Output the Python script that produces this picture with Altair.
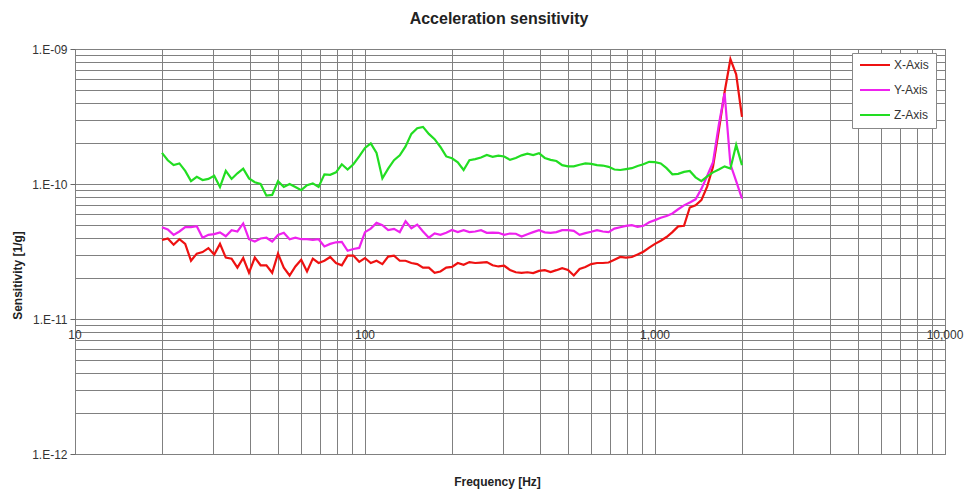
import altair as alt
import pandas as pd

# Frequency grid [Hz] (log-spaced, 50 points per decade, 20 Hz .. 2 kHz)
freqs = [
    19.95, 20.89, 21.88, 22.91, 23.99, 25.12, 26.30, 27.54, 28.84, 30.20,
    31.62, 33.11, 34.67, 36.31, 38.02, 39.81, 41.69, 43.65, 45.71, 47.86,
    50.12, 52.48, 54.95, 57.54, 60.26, 63.10, 66.07, 69.18, 72.44, 75.86,
    79.43, 83.18, 87.10, 91.20, 95.50,
    100.0, 104.7, 109.6, 114.8, 120.2, 125.9, 131.8, 138.0, 144.5, 151.4,
    158.5, 166.0, 173.8, 182.0, 190.6, 199.5, 208.9, 218.8, 229.1, 239.9,
    251.2, 263.0, 275.4, 288.4, 302.0, 316.2, 331.1, 346.7, 363.1, 380.2,
    398.1, 416.9, 436.5, 457.1, 478.6, 501.2, 524.8, 549.5, 575.4, 602.6,
    631.0, 660.7, 691.8, 724.4, 758.6, 794.3, 831.8, 871.0, 912.0, 955.0,
    1000, 1047, 1096, 1148, 1202, 1259, 1318, 1380, 1445, 1514,
    1585, 1660, 1738, 1820, 1905, 1995,
]

# Sensitivity values in units of 1E-11 [1/g]
x_axis = [
    3.85, 3.95, 3.55, 3.9, 3.6, 2.7, 3.05, 3.13, 3.35, 3.0,
    3.6, 2.85, 2.8, 2.4, 2.83, 2.2, 2.85, 2.5, 2.5, 2.2,
    3.05, 2.4, 2.1, 2.45, 2.75, 2.25, 2.8, 2.6, 2.7, 2.88,
    2.6, 2.5, 2.95, 2.95, 2.65,
    2.83, 2.6, 2.7, 2.55, 2.9, 2.95, 2.7, 2.7, 2.6, 2.55,
    2.4, 2.4, 2.2, 2.25, 2.4, 2.43, 2.6, 2.52, 2.64, 2.6,
    2.62, 2.64, 2.5, 2.45, 2.48, 2.31, 2.22, 2.2, 2.22, 2.19,
    2.27, 2.3, 2.23, 2.3, 2.38, 2.31, 2.1, 2.35, 2.43, 2.55,
    2.6, 2.6, 2.62, 2.75, 2.88, 2.85, 2.88, 3.0, 3.15, 3.38,
    3.6, 3.8, 4.05, 4.4, 4.85, 4.9, 6.7, 6.95, 7.6, 9.6,
    13.4, 25.0, 48.0, 84.0, 65.0, 31.4,
]
y_axis = [
    4.78, 4.6, 4.2, 4.45, 4.8, 4.8, 4.87, 4.0, 4.2, 4.25,
    4.38, 4.1, 4.55, 4.45, 5.1, 3.9, 3.75, 3.95, 4.0, 3.75,
    4.19, 4.35, 3.9, 4.0, 3.9, 3.9, 3.85, 3.9, 3.45, 3.6,
    3.7, 3.72, 3.2, 3.3, 3.36,
    4.4, 4.67, 5.15, 4.95, 4.56, 4.65, 4.4, 5.3, 4.7, 5.0,
    4.45, 4.0, 4.3, 4.2, 4.35, 4.56, 4.4, 4.55, 4.4, 4.45,
    4.55, 4.35, 4.36, 4.35, 4.2, 4.3, 4.28, 4.08, 4.25, 4.4,
    4.55, 4.38, 4.35, 4.4, 4.55, 4.56, 4.5, 4.2, 4.33, 4.43,
    4.55, 4.45, 4.4, 4.67, 4.78, 4.9, 4.95, 4.82, 4.9, 5.2,
    5.4, 5.62, 5.8, 6.05, 6.5, 6.95, 7.3, 7.7, 9.2, 11.5,
    14.5, 27.5, 47.0, 14.0, 10.5, 7.8,
]
z_axis = [
    17.0, 15.0, 13.8, 14.2, 12.5, 10.5, 11.3, 10.7, 10.9, 11.5,
    9.5, 12.5, 10.9, 12.0, 13.0, 11.0, 10.3, 10.0, 8.2, 8.3,
    10.5, 9.5, 10.0, 9.5, 9.0, 9.8, 10.1, 9.5, 11.8, 11.7,
    12.2, 14.0, 12.8, 14.0, 16.0,
    18.5, 20.0, 17.0, 11.0, 13.0, 15.0, 16.3, 19.0, 23.5, 25.9,
    26.5, 23.5, 21.5, 18.8, 16.0, 15.5, 14.5, 12.7, 15.0, 15.3,
    15.7, 16.4, 15.9, 16.2, 16.0, 15.1, 15.6, 16.3, 16.8, 16.4,
    16.9, 15.6, 15.1, 14.8, 13.8, 13.5, 13.5, 13.9, 14.2, 14.1,
    13.8, 13.7, 13.4, 12.8, 12.7, 12.9, 13.1, 13.6, 14.0, 14.6,
    14.5, 14.2, 13.1, 11.8, 11.9, 12.3, 12.5, 11.2, 10.5, 11.4,
    12.2, 12.8, 13.5, 13.0, 19.5, 13.8,
]

series_names = ["X-Axis", "Y-Axis", "Z-Axis"]
series_colors = ["#ee1111", "#ee22ee", "#22dd22"]
unit = 1e-11

x_grid = [m * d for d in (10, 100, 1000) for m in range(1, 10)] + [10000]
y_grid = [m * d for d in (1e-12, 1e-11, 1e-10) for m in range(1, 10)] + [1e-9]

x_tick_pos = [10, 100, 1000, 10000]
x_tick_text = ["10", "100", "1,000", "10,000"]

rows = []
for name, vals in zip(series_names, [x_axis, y_axis, z_axis]):
    for f, v in zip(freqs, vals):
        rows.append({"f": f, "s": v * unit, "series": name})
df = pd.DataFrame(rows)

lab_df = pd.DataFrame({"f": x_tick_pos, "t": x_tick_text, "s": [1e-11] * 4})

FONT = "Liberation Sans"
is_dec = "abs(log(datum.value)/LN10 - round(log(datum.value)/LN10)) < 0.01"
dec_n = "round(-log(datum.value)/LN10)"

x_scale = alt.Scale(type="log", domain=[10, 10000], nice=False)
y_scale = alt.Scale(type="log", domain=[1e-12, 1e-9], nice=False)

lines = alt.Chart(df).mark_line(strokeWidth=2.2, clip=True).encode(
    x=alt.X("f:Q", scale=x_scale,
            axis=alt.Axis(values=x_grid, labels=False, ticks=False, domain=False,
                          grid=True, gridColor="#808080", gridWidth=1, gridOpacity=1,
                          title="Frequency [Hz]", titleFont=FONT, titleFontSize=12,
                          titleFontWeight="bold", titleColor="#222",
                          titleX=422, titleY=27, titleBaseline="middle")),
    y=alt.Y("s:Q", scale=y_scale,
            axis=alt.Axis(values=y_grid, grid=True, gridColor="#808080", gridWidth=1,
                          gridOpacity=1, domain=False,
                          labelExpr=f"{is_dec} ? '1.E-' + ({dec_n} < 10 ? '0' : '') + {dec_n} : ''",
                          tickOpacity={"condition": {"test": f"!({is_dec})", "value": 0}, "value": 1},
                          tickColor="#666", tickSize=5, labelPadding=3,
                          labelFont=FONT, labelFontSize=12, labelColor="#333",
                          title="Sensitivity [1/g]", titleFont=FONT, titleFontSize=12,
                          titleFontWeight="bold", titleColor="#222", titleAngle=270,
                          titleX=-58, titleY=226, titleBaseline="middle")),
    color=alt.Color("series:N",
                    scale=alt.Scale(domain=series_names, range=series_colors),
                    legend=alt.Legend(title=None, orient="none", legendX=777, legendY=4,
                                      symbolType="stroke", symbolSize=900,
                                      symbolStrokeWidth=2, clipHeight=10, rowPadding=13,
                                      padding=7, strokeColor="#888", fillColor="white",
                                      labelFont=FONT, labelFontSize=12, labelColor="#333",
                                      labelOffset=3)),
)

labels = alt.Chart(lab_df).mark_text(font=FONT, fontSize=12, color="#333", dy=16,
                                     baseline="middle").encode(
    x=alt.X("f:Q", scale=x_scale),
    y=alt.Y("s:Q", scale=y_scale),
    text="t:N",
)

chart = alt.layer(lines, labels).properties(
    width=870, height=405,
    title=alt.TitleParams("Acceleration sensitivity", font=FONT, fontSize=16,
                          fontWeight="bold", color="#222", anchor="middle",
                          dx=-11, offset=16),
    autosize=alt.AutoSizeParams(type="none"),
    padding={"left": 67, "top": 41, "right": 25, "bottom": 36},
).configure_view(stroke="#666", strokeWidth=1)

chart.save("out.html", embed_options={"renderer": "svg", "actions": False})
